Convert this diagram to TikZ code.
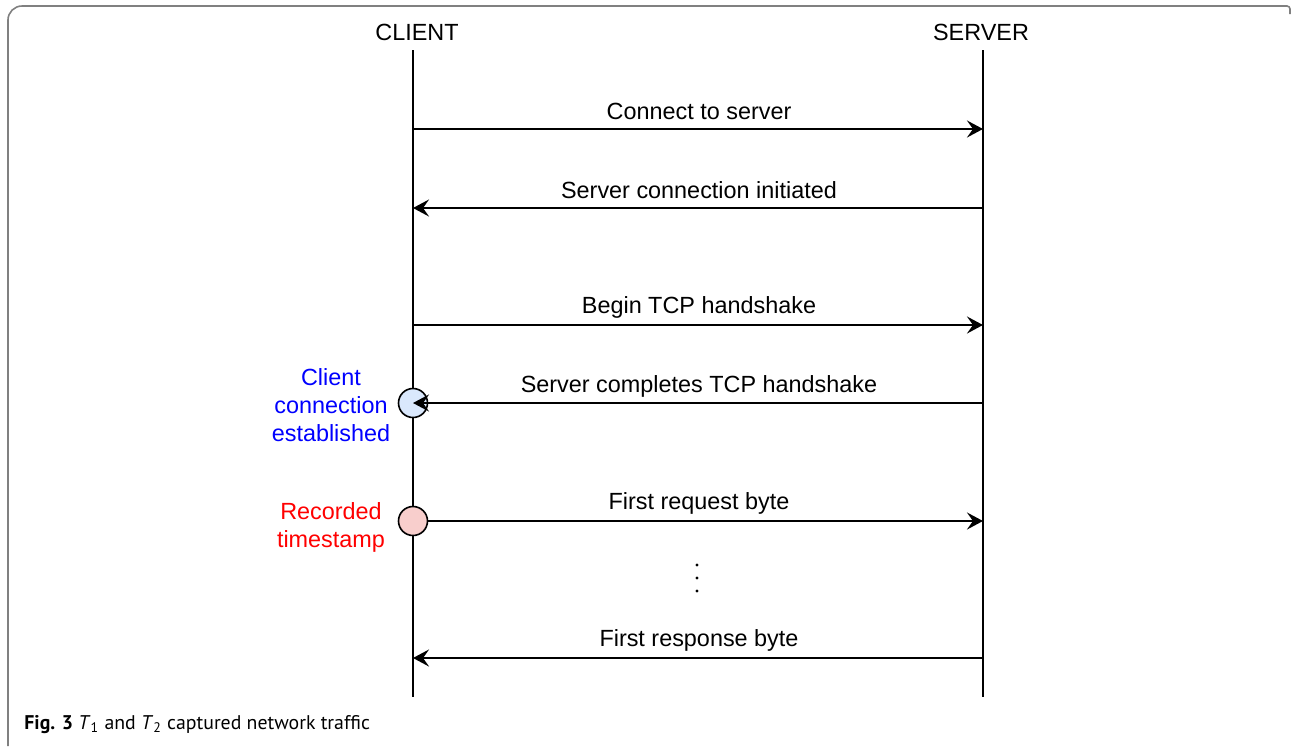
\documentclass[tikz,border=0pt]{standalone}
\usepackage{fontspec}
\setmainfont{Liberation Sans}
\newfontfamily\capfont{PT Sans}
\usetikzlibrary{arrows.meta}
\definecolor{frameg}{HTML}{808080}
\definecolor{cblue}{HTML}{DAE8FC}
\definecolor{cred}{HTML}{F8CECC}
\tikzset{
  lbl/.style={font=\fontsize{11.7}{14}\selectfont, inner sep=0pt, anchor=center},
  msg/.style={line width=1pt, -{Stealth[length=8pt,width=8.5pt,inset=3pt]}},
  life/.style={line width=1pt},
  evt/.style={circle, draw=black, line width=0.8pt, minimum size=14.5pt, inner sep=0pt},
  side/.style={font=\fontsize{11.7}{14}\selectfont, align=center, inner sep=0pt, anchor=center},
  dotn/.style={circle, fill=black, inner sep=0pt, minimum size=1.6pt},
}
\begin{document}
\begin{tikzpicture}[x=0.5pt,y=-0.5pt]
\useasboundingbox (0,0) rectangle (1292,746);
% frame
\draw[frameg, line width=0.8pt] (8,746) [rounded corners=7pt] -- (8,6) [rounded corners=1.5pt] -- (1290,6) -- (1290,14);
% headers
\node[lbl] (client) at (417,32) {CLIENT};
\node[lbl] (server) at (981,32) {SERVER};
% lifelines
\coordinate (ct) at (413,50); \coordinate (cb) at (413,697);
\coordinate (st) at (983,50); \coordinate (sb) at (983,697);
\draw[life] (ct) -- (cb);
\draw[life] (st) -- (sb);
% message end points
\foreach \i/\y in {1/129,2/208,3/325,4/403,5/521,6/658}{
  \coordinate (c\i) at (413,\y);
  \coordinate (s\i) at (983,\y);
}
% events
\node[evt, fill=cblue] (est) at (c4) {};
\node[evt, fill=cred] (rec) at (c5) {};
% messages
\draw[msg] (c1) -- (s1);
\draw[msg] (s2) -- (c2);
\draw[msg] (c3) -- (s3);
\draw[msg] (s4) -- (c4);
\draw[msg] (rec.east) -- (s5);
\draw[msg] (s6) -- (c6);
% labels
\node[lbl] (l1) at (699,111) {Connect to server};
\node[lbl] (l2) at (699,190) {Server connection initiated};
\node[lbl] (l3) at (699,307) {Begin TCP handshake};
\node[lbl] (l4) at (699,386) {Server completes TCP handshake};
\node[lbl] (l5) at (699,503) {First request byte};
\node[lbl] (l6) at (699,640) {First response byte};
% dots
\node[dotn] (d1) at (697,565) {};
\node[dotn] (d2) at (697,578) {};
\node[dotn] (d3) at (697,591) {};
% side notes
\node[side, text=blue] (estl) at (331,405) {Client\\connection\\established};
\node[side, text=red] (recl) at (331,527) {Recorded\\timestamp};
% caption
\node[anchor=base west, inner sep=0pt, font=\capfont\fontsize{9.9}{12}\selectfont] (cap) at (24,729)
  {\textbf{Fig. 3} \textit{T}\textsubscript{1} and \textit{T}\textsubscript{2} captured network traffic};
\end{tikzpicture}
\end{document}
